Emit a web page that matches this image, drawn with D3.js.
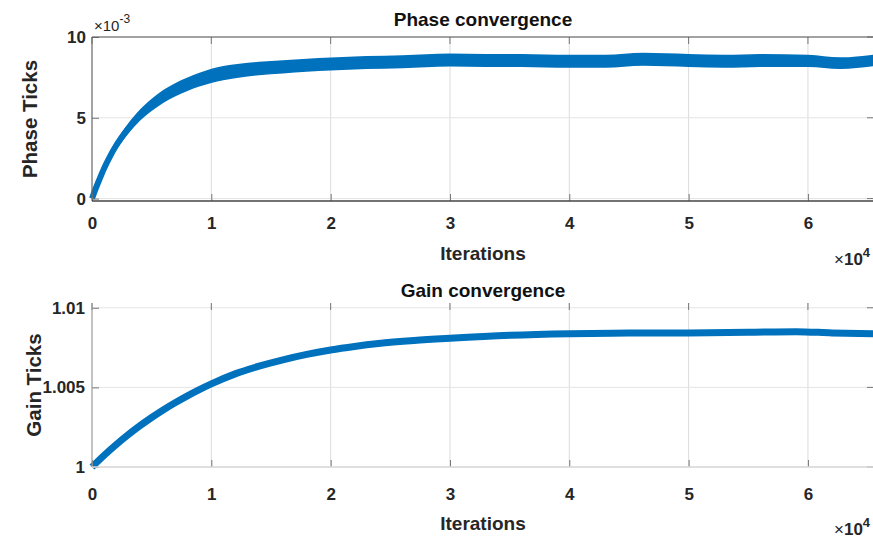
<!DOCTYPE html>
<html>
<head>
<meta charset="utf-8">
<script src="https://cdn.jsdelivr.net/npm/d3@7"></script>
<style>
  html, body { margin: 0; padding: 0; background: #fff; }
  svg { display: block; font-family: "Liberation Sans", Arial, sans-serif; }
  .tick text { font-weight: bold; font-size: 17px; fill: #262626; }
</style>
</head>
<body>
<svg id="chart" width="873" height="539"></svg>
<script>
// Iterations, in units of 1e4
const iterTicks = [0, 1, 2, 3, 4, 5, 6];
const iterTickLabels = ["0", "1", "2", "3", "4", "5", "6"];
const iterMax = 6.5536;

// Phase ticks (units of 1e-3): band centre and half-spread
const phaseIter = [0, 0.03, 0.06, 0.1, 0.15, 0.2, 0.3, 0.4, 0.5, 0.6, 0.7, 0.8, 0.9, 1.0, 1.2, 1.4, 1.6, 1.8, 2.0, 2.3, 2.6, 3.0, 3.3, 3.6, 4.0, 4.3, 4.62, 5.0, 5.3, 5.6, 6.0, 6.27, 6.5536];
const phaseMid = [0, 0.6, 1.15, 1.85, 2.6, 3.25, 4.3, 5.15, 5.8, 6.33, 6.75, 7.08, 7.36, 7.6, 7.88, 8.05, 8.15, 8.25, 8.33, 8.42, 8.47, 8.58, 8.55, 8.55, 8.5, 8.5, 8.62, 8.55, 8.5, 8.55, 8.52, 8.38, 8.55];
const phaseSpread = [0.05, 0.1, 0.15, 0.2, 0.25, 0.28, 0.32, 0.35, 0.38, 0.4, 0.41, 0.42, 0.43, 0.44, 0.43, 0.42, 0.41, 0.4, 0.4, 0.4, 0.4, 0.4, 0.4, 0.4, 0.4, 0.4, 0.4, 0.4, 0.4, 0.4, 0.38, 0.36, 0.36];
const phaseTicks = [0, 5, 10];
const phaseTickLabels = ["0", "5", "10"];

// Gain ticks
const gainIter = [0, 0.1, 0.2, 0.3, 0.4, 0.5, 0.6, 0.7, 0.8, 0.9, 1.0, 1.2, 1.4, 1.6, 1.8, 2.0, 2.2, 2.4, 2.7, 3.0, 3.5, 4.0, 4.5, 5.0, 5.5, 5.9, 6.2, 6.5536];
const gainValue = [1.00000, 1.00072, 1.00139, 1.00201, 1.00258, 1.00311, 1.00360, 1.00405, 1.00447, 1.00486, 1.00522, 1.00585, 1.00633, 1.00673, 1.00707, 1.00735, 1.00757, 1.00775, 1.00794, 1.00808, 1.00827, 1.00837, 1.00841, 1.00842, 1.00846, 1.00850, 1.00842, 1.00836];
const gainTicks = [1, 1.005, 1.01];
const gainTickLabels = ["1", "1.005", "1.01"];

const blue = "#0072BD";
const svg = d3.select("#chart");

const x = d3.scaleLinear().domain([0, iterMax]).range([92, 874]);

function drawPanel(opt) {
  const g = svg.append("g");
  const y = opt.y;
  const [yb, yt] = y.range();
  const [x0, x1] = x.range();

  // grid
  g.append("g").selectAll("line").data(iterTicks.filter(d => d > 0)).join("line")
    .attr("x1", d => x(d)).attr("x2", d => x(d)).attr("y1", yt).attr("y2", yb)
    .attr("stroke", "#dcdcdc").attr("stroke-width", 1);
  g.append("g").selectAll("line").data(opt.yTicks).join("line")
    .attr("x1", x0).attr("x2", x1).attr("y1", d => y(d)).attr("y2", d => y(d))
    .attr("stroke", "#e4e4e4").attr("stroke-width", 1);

  // data
  opt.drawData(g, y);

  // x axis
  const xa = g.append("g").attr("transform", `translate(0,${yb})`)
    .call(d3.axisBottom(x).tickValues(iterTicks).tickFormat((d, i) => iterTickLabels[i])
      .tickSize(-7).tickPadding(opt.xPad));
  xa.select(".domain").remove();
  xa.selectAll(".tick line").attr("stroke", "#777");
  xa.selectAll(".tick text").attr("fill", "#262626");

  // top ticks
  g.append("g").selectAll("line").data(iterTicks).join("line")
    .attr("x1", d => x(d)).attr("x2", d => x(d)).attr("y1", yt).attr("y2", yt + 7)
    .attr("stroke", "#777");

  // y axis
  const ya = g.append("g").attr("transform", `translate(${x0},0)`)
    .call(d3.axisLeft(y).tickValues(opt.yTicks).tickFormat((d, i) => opt.yTickLabels[i])
      .tickSize(-7).tickPadding(opt.yPad));
  ya.select(".domain").remove();
  ya.selectAll(".tick line").attr("stroke", "#777");
  ya.selectAll(".tick text").attr("fill", "#262626");

  // right ticks
  g.append("g").selectAll("line").data(opt.yTicks).join("line")
    .attr("x1", x1 - 7).attr("x2", x1).attr("y1", d => y(d)).attr("y2", d => y(d))
    .attr("stroke", "#777");

  // axes box
  g.append("line").attr("x1", x0).attr("x2", x0).attr("y1", yt).attr("y2", yb)
    .attr("stroke", opt.leftColor).attr("stroke-width", 1.2);
  g.append("line").attr("x1", x0).attr("x2", x1).attr("y1", yb).attr("y2", yb)
    .attr("stroke", opt.bottomColor).attr("stroke-width", 1.4);
  if (opt.topColor) {
    g.append("line").attr("x1", x0).attr("x2", x1).attr("y1", yt).attr("y2", yt)
      .attr("stroke", opt.topColor).attr("stroke-width", 1.2);
  }

  // title
  g.append("text").attr("x", (x0 + x1) / 2).attr("y", opt.titleY)
    .attr("text-anchor", "middle").attr("font-weight", "bold").attr("font-size", 19)
    .attr("fill", "#111").text(opt.title);

  // x label
  g.append("text").attr("x", (x0 + x1) / 2).attr("y", opt.xLabelY)
    .attr("text-anchor", "middle").attr("font-weight", "bold").attr("font-size", 19)
    .attr("fill", "#262626").text("Iterations");

  // y label
  g.append("text").attr("transform", `translate(${opt.yLabelX},${(yt + yb) / 2}) rotate(-90)`)
    .attr("text-anchor", "middle").attr("font-weight", "bold").attr("font-size", 20.5)
    .attr("fill", "#262626").text(opt.yLabel);

  // x exponent
  const ex = g.append("text").attr("x", 834).attr("y", opt.expY)
    .attr("fill", "#262626").attr("font-size", 17);
  ex.append("tspan").text("×");
  ex.append("tspan").attr("font-weight", "bold").text("10");
  ex.append("tspan").attr("font-weight", "bold").attr("font-size", 13).attr("dy", -8).text("4");
}

// Phase panel
drawPanel({
  y: d3.scaleLinear().domain([-0.15, 10]).range([201, 37]),
  yTicks: phaseTicks, yTickLabels: phaseTickLabels,
  xPad: 16, yPad: 6,
  leftColor: "#666", bottomColor: "#444", topColor: "#555",
  title: "Phase convergence", titleY: 26,
  xLabelY: 260, yLabel: "Phase Ticks", yLabelX: 37, expY: 265,
  drawData: (g, y) => {
    const pts = phaseIter.map((t, i) => ({ t, m: phaseMid[i], s: phaseSpread[i] }));
    g.append("path").datum(pts)
      .attr("d", d3.area().x(d => x(d.t)).y0(d => y(d.m - d.s)).y1(d => y(d.m + d.s)).curve(d3.curveMonotoneX))
      .attr("fill", blue);
    g.append("path").datum(pts)
      .attr("d", d3.line().x(d => x(d.t)).y(d => y(d.m)).curve(d3.curveMonotoneX))
      .attr("fill", "none").attr("stroke", blue).attr("stroke-width", 6).attr("stroke-linecap", "butt");
  }
});

// Phase exponent label
const pe = svg.append("text").attr("x", 94).attr("y", 31).attr("fill", "#262626").attr("font-size", 15);
pe.append("tspan").text("×10");
pe.append("tspan").attr("font-size", 12).attr("dy", -8).text("-3");

// Gain panel
drawPanel({
  y: d3.scaleLinear().domain([1, 1.0103]).range([467, 303]),
  yTicks: gainTicks, yTickLabels: gainTickLabels,
  xPad: 21, yPad: 7,
  leftColor: "#9a9a9a", bottomColor: "#d8d8d8", topColor: null,
  title: "Gain convergence", titleY: 297,
  xLabelY: 530, yLabel: "Gain Ticks", yLabelX: 41, expY: 535,
  drawData: (g, y) => {
    const pts = gainIter.map((t, i) => ({ t, v: gainValue[i] }));
    g.append("path").datum(pts)
      .attr("d", d3.line().x(d => x(d.t)).y(d => y(d.v)).curve(d3.curveMonotoneX))
      .attr("fill", "none").attr("stroke", blue).attr("stroke-width", 7).attr("stroke-linecap", "butt");
  }
});
</script>
</body>
</html>
